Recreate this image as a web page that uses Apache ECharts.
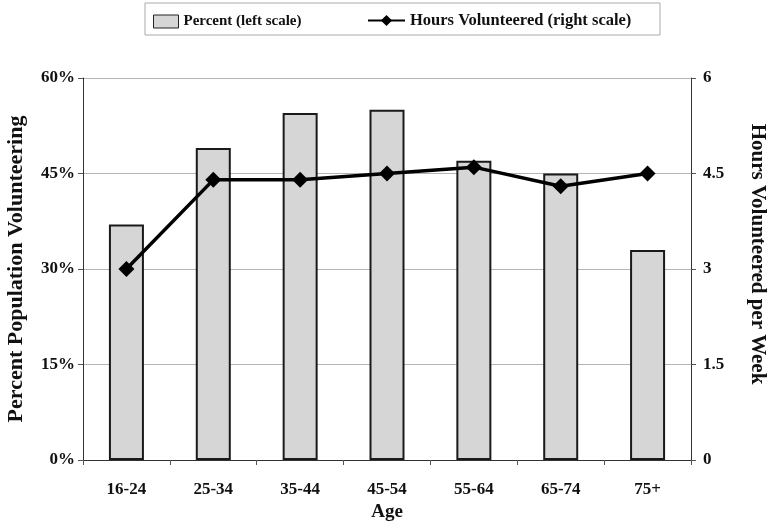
<!DOCTYPE html>
<html>
<head>
<meta charset="utf-8">
<script src="https://cdn.jsdelivr.net/npm/echarts@6/dist/echarts.min.js"></script>
<style>
  html, body { margin: 0; padding: 0; background: #fff; }
  #chart { width: 770px; height: 524px; }
</style>
</head>
<body>
<div id="chart"></div>
<script>
// Volunteering by age group
const ageGroups = ['16-24', '25-34', '35-44', '45-54', '55-64', '65-74', '75+'];
const percentVolunteering = [37, 49, 54.5, 55, 47, 45, 33];
const hoursPerWeek = [3.0, 4.4, 4.4, 4.5, 4.6, 4.3, 4.5];
const leftTicks = [0, 15, 30, 45, 60];
const rightTicks = [0, 1.5, 3, 4.5, 6];

const serif = '"Liberation Serif", "DejaVu Serif", serif';
const labelStyle = { fontFamily: serif, fontWeight: 'bold', fontSize: 17, color: '#111' };
const titleStyle = { fontFamily: serif, fontWeight: 'bold', fontSize: 21, color: '#111' };
const legendText = { fontFamily: serif, fontWeight: 'bold', fontSize: 15, color: '#111' };

const chart = echarts.init(document.getElementById('chart'), null, { renderer: 'canvas' });

chart.setOption({
  animation: false,
  backgroundColor: '#fff',
  graphic: [{
    type: 'rect',
    shape: { x: 145, y: 3, width: 515, height: 32 },
    style: { fill: 'none', stroke: '#aaa', lineWidth: 1 },
    silent: true
  }],
  legend: [{
    top: 9,
    left: 148,
    itemWidth: 25,
    itemHeight: 13,
    itemGap: 3,
    textStyle: legendText,
    data: [
      { name: 'Percent (left scale)', icon: 'rect', itemStyle: { color: '#d6d6d6', borderColor: '#222', borderWidth: 1 } }
    ]
  }, {
    top: 7,
    left: 362,
    itemWidth: 37,
    itemHeight: 14,
    textStyle: Object.assign({}, legendText, { fontSize: 16.5 }),
    data: [{ name: 'Hours Volunteered (right scale)' }]
  }],
  grid: { left: 83, right: 79, top: 78, bottom: 64, outerBoundsMode: 'none', containLabel: false },
  xAxis: {
    type: 'category',
    data: ageGroups,
    name: 'Age',
    nameLocation: 'middle',
    nameGap: 41,
    nameTextStyle: Object.assign({}, titleStyle, { fontSize: 19 }),
    axisLine: { lineStyle: { color: '#333', width: 1 } },
    axisTick: { show: true, length: 5, lineStyle: { color: '#555' } },
    axisLabel: Object.assign({ margin: 21 }, labelStyle)
  },
  yAxis: [{
    type: 'value',
    min: 0, max: 60, interval: 15,
    name: 'Percent Population Volunteering',
    nameLocation: 'middle',
    nameRotate: 90,
    nameGap: 56,
    nameTextStyle: Object.assign({}, titleStyle, { fontSize: 22 }),
    axisLine: { show: true, lineStyle: { color: '#333', width: 1 } },
    axisTick: { show: true, length: 5, lineStyle: { color: '#555' } },
    axisLabel: Object.assign({ margin: 8, formatter: v => leftTicks.includes(v) ? v + '%' : '' }, labelStyle),
    splitLine: { show: true, lineStyle: { color: '#b4b4b4', width: 1 } }
  }, {
    type: 'value',
    min: 0, max: 6, interval: 1.5,
    name: 'Hours Volunteered per Week',
    nameLocation: 'middle',
    nameRotate: -90,
    nameGap: 56,
    nameTextStyle: Object.assign({}, titleStyle, { padding: [0, 30, 0, 0] }),
    axisLine: { show: true, lineStyle: { color: '#333', width: 1 } },
    axisTick: { show: true, length: 5, lineStyle: { color: '#555' } },
    axisLabel: Object.assign({ margin: 12, formatter: v => rightTicks.includes(v) ? String(v) : '' }, labelStyle),
    splitLine: { show: false }
  }],
  series: [{
    name: 'Percent (left scale)',
    type: 'bar',
    yAxisIndex: 0,
    data: percentVolunteering,
    barWidth: 35,
    itemStyle: { color: '#d6d6d6', borderColor: '#1a1a1a', borderWidth: 2 }
  }, {
    name: 'Hours Volunteered (right scale)',
    type: 'line',
    yAxisIndex: 1,
    data: hoursPerWeek,
    symbol: 'diamond',
    symbolSize: 16,
    lineStyle: { color: '#000', width: 3.5 },
    itemStyle: { color: '#000' }
  }]
});
</script>
</body>
</html>
